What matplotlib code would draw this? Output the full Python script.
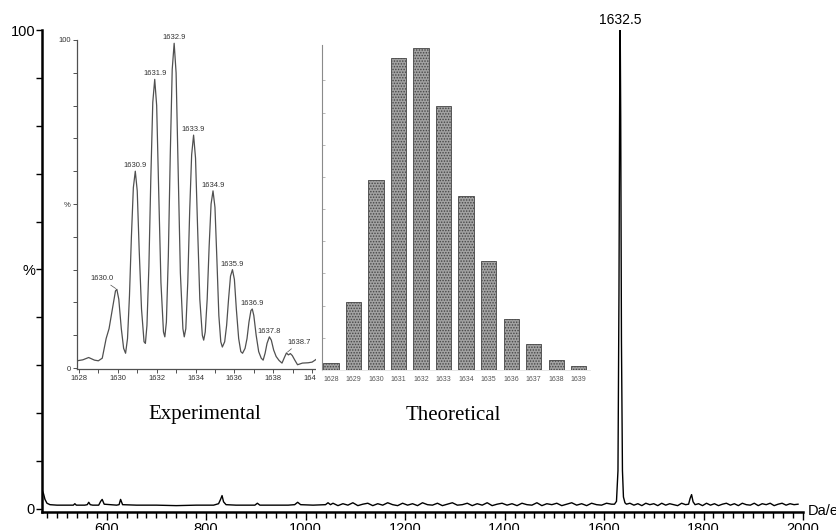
import matplotlib
matplotlib.use("Agg")  # headless backend
import matplotlib.pyplot as plt
from matplotlib.patches import Rectangle
from matplotlib.ticker import MultipleLocator, FixedLocator
import numpy as np

plt.rcParams['font.family'] = ['Liberation Sans', 'DejaVu Sans']
plt.rcParams['hatch.linewidth'] = 0.7

W, H = 836, 530

# ---- main spectrum (m/z, % intensity) ----
low_mz = [470, 473, 476, 480, 486, 500, 520, 533, 536, 539,
          556, 561, 564, 567, 572, 584, 588, 591, 595, 620,
          625, 628, 632, 660, 700, 740, 780, 815, 825, 829,
          832, 835, 840, 860, 880, 898, 903, 908, 940, 965,
          978, 984, 990, 1015, 1040, 1045, 1050]
low_int = [4.0, 3.2, 2.0, 1.2, 0.9, 0.8, 0.8, 0.8, 1.1, 0.8,
           0.8, 0.9, 1.4, 0.9, 0.8, 0.8, 1.6, 2.0, 1.0, 0.8,
           0.9, 2.0, 0.9, 0.8, 0.8, 0.7, 0.8, 0.8, 1.1, 2.0,
           2.8, 1.5, 0.9, 0.8, 0.8, 0.8, 1.2, 0.8, 0.8, 0.8,
           0.9, 1.4, 0.9, 0.8, 0.9, 1.3, 0.9]

mid_mz = np.arange(1055, 1616, 10)
mid_int = [1.2, 0.7, 1.1, 0.8, 1.3, 0.7, 1.0, 1.2, 0.7, 1.1,
           0.8, 1.3, 0.9, 0.7, 1.2, 0.8, 1.1, 0.7, 1.3, 0.9,
           0.8, 1.2, 0.7, 1.0, 1.3, 0.8, 0.9, 1.2, 0.7, 1.1,
           0.8, 1.3, 0.7, 1.0, 1.2, 0.8, 1.1, 0.7, 1.2, 0.9,
           0.8, 1.3, 0.7, 1.1, 0.9, 1.2, 0.7, 1.0, 1.3, 0.8,
           1.1, 0.7, 1.2, 0.9, 0.8, 1.2, 1.0]

peak_mz = [1621, 1625, 1628, 1630, 1631.5, 1632.5, 1633.5, 1635, 1637, 1639, 1642]
peak_int = [1.0, 1.6, 8, 45, 88, 100, 82, 35, 8, 2.5, 1.3]

high_mz = [1645, 1652, 1660, 1668, 1676, 1684, 1692, 1700, 1708, 1716,
           1724, 1732, 1740, 1748, 1756, 1764, 1770, 1773, 1776, 1779,
           1783, 1790, 1798, 1806, 1814, 1822, 1830, 1838, 1846, 1854,
           1862, 1870, 1878, 1886, 1894, 1902, 1910, 1918, 1926, 1934,
           1942, 1950, 1958, 1966, 1974, 1982, 1990]
high_int = [1.0, 1.2, 0.8, 1.1, 0.7, 1.2, 0.9, 1.1, 0.7, 1.2,
            0.8, 1.1, 0.9, 0.7, 1.2, 0.9, 1.0, 2.2, 3.0, 1.5,
            0.9, 1.1, 0.7, 1.2, 0.8, 1.1, 0.7, 1.0, 1.2, 0.8,
            1.1, 0.7, 1.2, 0.9, 0.8, 1.2, 0.7, 1.1, 0.9, 1.2,
            0.7, 1.0, 1.2, 0.8, 1.1, 0.9, 1.0]

main_label = "1632.5"
main_label_mz = 1632.5

# ---- experimental isotope pattern (inset 1) ----
exp_mz = [1627.9, 1628.2, 1628.5, 1628.8, 1629.0,
          1629.2, 1629.4, 1629.55, 1629.75, 1629.88, 1629.95, 1630.05, 1630.18, 1630.3, 1630.4,
          1630.5, 1630.6, 1630.7, 1630.8, 1630.9, 1631.0, 1631.1, 1631.22, 1631.35, 1631.42,
          1631.5, 1631.6, 1631.7, 1631.8, 1631.9, 1632.0, 1632.1, 1632.22, 1632.35, 1632.42,
          1632.5, 1632.6, 1632.7, 1632.8, 1632.9, 1633.0, 1633.1, 1633.22, 1633.35, 1633.42,
          1633.5, 1633.6, 1633.7, 1633.8, 1633.9, 1634.0, 1634.1, 1634.22, 1634.35, 1634.42,
          1634.5, 1634.6, 1634.7, 1634.8, 1634.9, 1635.0, 1635.1, 1635.2, 1635.3, 1635.38,
          1635.5, 1635.6, 1635.7, 1635.8, 1635.9, 1636.0, 1636.1, 1636.22, 1636.33, 1636.42,
          1636.55, 1636.65, 1636.75, 1636.85, 1636.92, 1637.0, 1637.12, 1637.25, 1637.38, 1637.48,
          1637.58, 1637.68, 1637.8, 1637.9, 1638.02, 1638.15, 1638.3, 1638.45,
          1638.58, 1638.68, 1638.78, 1638.88, 1638.98, 1639.1, 1639.25, 1639.5, 1639.8, 1640.0, 1640.2]
exp_int = [2.2, 2.5, 3.2, 2.4, 2.2,
           3, 9, 12, 19, 23.5, 24, 21, 12, 6, 4.5,
           9, 22, 40, 55, 60, 54, 36, 18, 8, 7.5,
           13, 31, 58, 81, 88, 80, 55, 26, 11, 9.5,
           14, 34, 65, 91, 99, 90, 62, 29, 12, 9.5,
           12, 26, 48, 65, 71, 64, 44, 21, 10, 8.5,
           11, 21, 37, 50, 54, 49, 33, 16, 8, 6.4,
           8, 13, 21, 28, 30, 27, 18, 9, 5, 4.5,
           6, 9, 14, 17.5, 18, 16, 10, 5, 3, 2.4,
           4.5, 7.5, 9.5, 8.5, 5.5, 3.5, 2.3, 1.5,
           3.3, 4.6, 4.0, 4.4, 3.8, 2.5, 1.0, 1.5, 1.6, 1.8, 2.6]

exp_peaks = [1630.0, 1630.9, 1631.9, 1632.9, 1633.9, 1634.9, 1635.9, 1636.9, 1637.8, 1638.7]
exp_heights = [24, 60, 88, 99, 71, 54, 30, 18, 9.5, 4.6]
exp_peak_pos = [1629.95, 1630.9, 1631.9, 1632.9, 1633.9, 1634.9, 1635.9, 1636.92, 1637.8, 1638.68]

# ---- theoretical isotope pattern (inset 2) ----
theo_mz = [1628, 1629, 1630, 1631, 1632, 1633, 1634, 1635, 1636, 1637, 1638, 1639]
theo_int = [2.2, 21, 59, 97, 100, 82, 54, 34, 16, 8, 3, 1.2]


def fig_rect(x0, y0, x1, y1):
    """pixel box (top-left origin) -> figure fraction rect"""
    return [x0 / W, 1 - y1 / H, (x1 - x0) / W, (y1 - y0) / H]


fig = plt.figure(figsize=(W / 100, H / 100), dpi=100)

# main axes
ax = fig.add_axes(fig_rect(42, 30, 803, 512))
mz = list(low_mz) + list(mid_mz) + peak_mz + high_mz
inten = low_int + mid_int + peak_int + high_int
ax.plot(mz, inten, color="black", lw=1.0)
ax.set_xlim(470, 2000)
ax.set_ylim(-0.63, 100)
for s in ["top", "right"]:
    ax.spines[s].set_visible(False)
ax.spines["left"].set_linewidth(1.8)
ax.spines["bottom"].set_linewidth(1.8)
ax.set_yticks([0, 50, 100])
ax.set_yticklabels(["0", "%", "100"], fontsize=10.5)
ax.yaxis.set_minor_locator(MultipleLocator(10))
ax.set_xticks(np.arange(600, 2001, 200))
ax.xaxis.set_minor_locator(MultipleLocator(20))
ax.tick_params(axis="y", which="both", length=4, width=1, pad=1)
ax.tick_params(axis="x", which="major", length=6, width=1, pad=1, labelsize=10.5)
ax.tick_params(axis="x", which="minor", length=4, width=1)
ax.annotate(main_label, (main_label_mz, 100), xytext=(0, 2), textcoords="offset points",
            ha="center", va="bottom", fontsize=10)
fig.text(808 / W, 1 - 511 / H, "Da/e", fontsize=10.5, ha="left", va="center")

# inset 1: experimental
gray = "#505050"
ax1 = fig.add_axes(fig_rect(77, 40, 316, 369), zorder=2)
ax1.plot(exp_mz, exp_int, color=gray, lw=0.9)
ax1.set_xlim(1627.9, 1640.2)
ax1.set_ylim(-0.3, 100)
for s in ["top", "right"]:
    ax1.spines[s].set_visible(False)
for s in ["left", "bottom"]:
    ax1.spines[s].set_color(gray)
    ax1.spines[s].set_linewidth(0.9)
ax1.set_yticks([0, 50, 100])
ax1.set_yticklabels(["0", "%", "100"])
ax1.yaxis.set_minor_locator(MultipleLocator(10))
ax1.set_xticks(np.arange(1628, 1641, 2))
ax1.set_xticklabels([str(v) for v in range(1628, 1641, 2)])
ax1.xaxis.set_minor_locator(MultipleLocator(1))
ax1.tick_params(which="both", length=3, width=0.7, color=gray, labelsize=5.5,
                labelcolor="#333333", pad=1.5)
ax1.patch.set_facecolor("white")

offsets = {1630.0: (-11, 5), 1638.7: (9, 5)}
for p, pos, h in zip(exp_peaks, exp_peak_pos, exp_heights):
    dx, dy = offsets.get(p, (0, 1.5))
    arrow = dict(arrowstyle="-", lw=0.5, color=gray, shrinkA=0, shrinkB=1) if p in offsets else None
    ax1.annotate(f"{p:.1f}", (pos, h), xytext=(dx, dy), textcoords="offset points",
                 ha="center", va="bottom", fontsize=5.5, color="#333333",
                 arrowprops=arrow)

# paper background of the scanned theoretical plot
fig.add_artist(Rectangle((316 / W, 1 - 396 / H), 276 / W, 360 / H,
                         transform=fig.transFigure, facecolor="white",
                         edgecolor="none", zorder=3))

# inset 2: theoretical
ax2 = fig.add_axes(fig_rect(322, 45, 590, 370), zorder=4)
ax2.patch.set_alpha(0)
ax2.bar(theo_mz, theo_int, width=0.68, color="#a2a2a2", edgecolor="#454545",
        hatch="......", lw=0.6)
ax2.set_xlim(1627.6, 1639.5)
ax2.set_ylim(0, 101)
for s in ["top", "right"]:
    ax2.spines[s].set_visible(False)
ax2.spines["left"].set_color("#8a8a8a")
ax2.spines["left"].set_linewidth(0.8)
ax2.spines["bottom"].set_color("#e2e2e2")
ax2.spines["bottom"].set_linewidth(0.6)
ax2.set_xticks(theo_mz)
ax2.set_xticklabels([str(v) for v in theo_mz])
ax2.set_yticks([])
ax2.yaxis.set_minor_locator(FixedLocator(np.arange(10, 100, 10)))
ax2.tick_params(axis="x", length=0, labelsize=5, labelcolor="#555555", pad=4)
ax2.tick_params(axis="y", which="minor", direction="in", length=2, width=0.5, color="#9a9a9a")

fig.text(205 / W, 1 - 415 / H, "Experimental", family="Liberation Serif",
         fontsize=15, ha="center", va="center")
fig.text(453 / W, 1 - 415 / H, "Theoretical", family="Liberation Serif",
         fontsize=15, ha="center", va="center")

fig.savefig("out.png", dpi=100)
